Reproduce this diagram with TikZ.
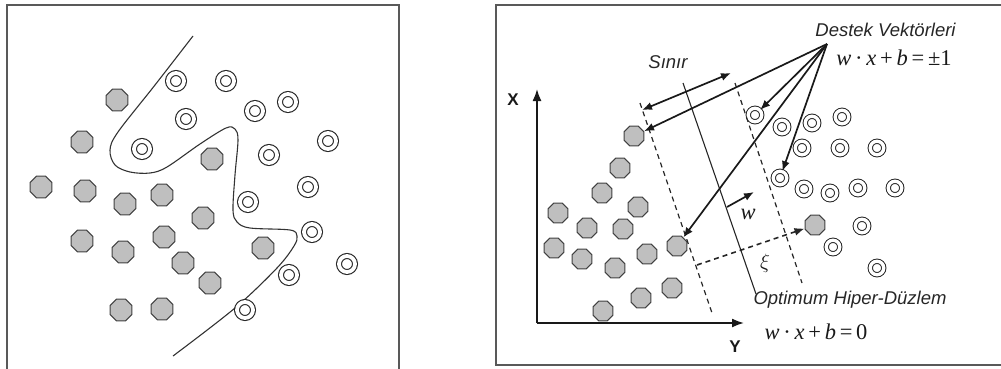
\documentclass[tikz,border=0pt]{standalone}
\usepackage{fontspec}
\setmainfont{Liberation Sans}
\newfontfamily\eqfont{Liberation Serif}
\usetikzlibrary{shapes.geometric,arrows.meta}

\tikzset{
  frame/.style={draw=black!65, line width=1.3pt},
  blob/.style={regular polygon, regular polygon sides=8, draw=black!75,
    fill=black!25, line width=1.1pt, inner sep=0pt, minimum size=23.5pt},
  sblob/.style={blob, minimum size=21.5pt},
  ring/.style={circle, draw=black!85, double, double distance=3.8pt,
    line width=1.1pt, inner sep=0pt, minimum size=16pt},
  sring/.style={ring, double distance=3.3pt, line width=1pt, minimum size=13.5pt},
  arr/.style={draw=black!90, line width=1.7pt, -{Latex[length=10pt,width=8pt]}},
  axis/.style={draw=black!90, line width=1.7pt, -{Latex[length=12pt,width=9pt]}},
  margin/.style={draw=black!85, line width=1.2pt, dash pattern=on 5pt off 4pt},
  label/.style={font=\fontsize{18.5}{21}\selectfont\itshape, text=black!85, inner sep=0pt},
  eq/.style={font=\eqfont\fontsize{22.5}{24}\selectfont, text=black!90, inner sep=0pt},
  axlabel/.style={font=\fontsize{17}{20}\selectfont\bfseries, text=black!90, inner sep=0pt},
}

\newcommand{\wxb}[1]{\textit{w}\,·\,\textit{x}\,+\,\textit{b}\,=\,#1}

\begin{document}
\begin{tikzpicture}[x=1pt,y=-1pt]
\useasboundingbox (0,0) rectangle (1001,369);

% ---------- left panel: nonlinear separation ----------
\draw[frame] (7,375) -- (7,5) -- (399,5) -- (399,375);

\draw[line width=1.1pt, black!80] plot[smooth, tension=0.55] coordinates {
  (193,36) (155,85) (118,132) (110,150) (115,165) (130,172) (150,173)
  (167,167) (200,144) (226,128) (235,129) (238,140) (235,175) (233,210)
  (237,222) (250,228) (290,230) (297,236) (294,246) (277,268) (235,308) (173,356)};

\foreach \n/\x/\y in {1/117/100, 2/82/142, 3/41/187, 4/85/191, 5/125/204,
  6/162/195, 7/212/159, 8/203/218, 9/82/241, 10/164/237, 11/123/252,
  12/183/263, 13/263/248, 14/210/283, 15/121/310, 16/162/309}
  \node[blob] (la\n) at (\x,\y) {};

\foreach \n/\x/\y in {1/176/81, 2/226/81, 3/288/102, 4/255/111, 5/186/119,
  6/142/149, 7/328/141, 8/269/155, 9/308/187, 10/248/202, 11/312/232,
  12/347/264, 13/289/275, 14/245/310}
  \node[ring] (lb\n) at (\x,\y) {};

% ---------- right panel: optimal separating hyperplane ----------
\draw[frame] (1005,5) -- (496,5) -- (496,365) -- (1005,365);

\coordinate (o) at (537,323);
\coordinate (xt) at (537,89);
\coordinate (yt) at (744,323);
\draw[axis] (o) -- (xt);
\draw[axis] (o) -- (yt);
\node[axlabel, anchor=base] (xl) at (513,105) {X};
\node[axlabel, anchor=base] (yl) at (735,352) {Y};

\foreach \n/\x/\y in {1/634/136, 2/620/168, 3/602/193, 4/638/207, 5/558/213,
  6/587/228, 7/623/229, 8/554/248, 9/582/259, 10/647/254, 11/677/246,
  12/615/268, 13/641/298, 14/672/288, 15/603/311, 16/815/225}
  \node[sblob] (ra\n) at (\x,\y) {};

\foreach \n/\x/\y in {1/755/115, 2/782/127, 3/812/123, 4/842/117, 5/802/148,
  6/840/148, 7/877/148, 8/780/178, 9/804/189, 10/830/193, 11/858/188,
  12/895/188, 13/862/226, 14/833/247, 15/877/268}
  \node[sring] (rb\n) at (\x,\y) {};

% hyperplane and the two margins
\coordinate (h1) at (683,83);
\coordinate (h2) at (756,294);
\coordinate (m1) at (640,103);
\coordinate (m2) at (712,313);
\coordinate (n1) at (735,83);
\coordinate (n2) at (802,283);
\draw[black!85, line width=1.1pt] (h1) -- (h2);
\draw[margin] (m1) -- (m2);
\draw[margin] (n1) -- (n2);

% margin width
\coordinate (s1) at (642,110);
\coordinate (s2) at (731,73);
\draw[arr, {Latex[length=10pt,width=8pt]}-{Latex[length=10pt,width=8pt]}] (s1) -- (s2);

% normal vector
\coordinate (w1) at (727,207);
\coordinate (w2) at (754,192);
\draw[arr] (w1) -- (w2);
\node[eq, font=\eqfont\fontsize{22.5}{24}\selectfont\itshape] (wl) at (748,214) {w};

% slack variable
\coordinate (k1) at (697,265);
\draw[margin, line width=1.6pt, -{Latex[length=10pt,width=8pt]}] (k1) -- (ra16);
\node[eq, font=\fontsize{22}{24}\selectfont] (xil) at (765,263) {$\xi$};

% support vectors
\coordinate (sv) at (827,44);
\draw[arr] (sv) -- (ra1);
\draw[arr] (sv) -- (rb1);
\draw[arr] (sv) -- (rb8);
\draw[arr] (sv) -- (ra11);

\node[label, anchor=base] (svl) at (885.5,37) {Destek Vektörleri};
\node[eq, anchor=base] (eq1) at (894,66) {\wxb{±1}};
\node[label, anchor=base] (sin) at (668,68) {Sınır};
\node[label, anchor=base] (ohd) at (850,304) {Optimum Hiper-Düzlem};
\node[eq, anchor=base] (eq0) at (816,339) {\wxb{0}};
\end{tikzpicture}
\end{document}
